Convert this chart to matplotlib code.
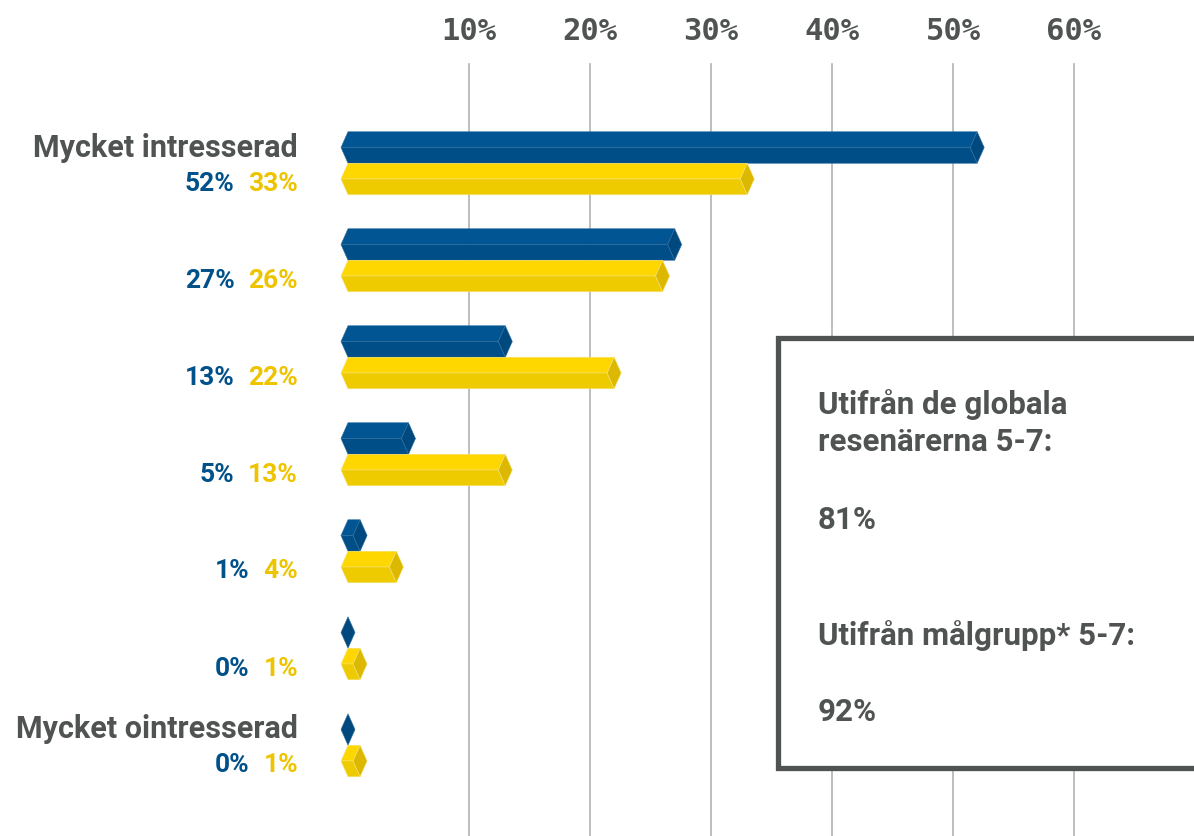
import matplotlib
matplotlib.use("Agg")
import matplotlib.pyplot as plt
from matplotlib.patches import Polygon, Rectangle

# svarsfördelning, från "Mycket intresserad" till "Mycket ointresserad"
global_pct = [52, 27, 13, 5, 1, 0, 0]
target_pct = [33, 26, 22, 13, 4, 1, 1]
row_labels = ["Mycket intresserad", "", "", "", "", "", "Mycket ointresserad"]
ticks = [10, 20, 30, 40, 50, 60]
box_lines = ["Utifrån de globala", "resenärerna 5-7:", "81%", "Utifrån målgrupp* 5-7:", "92%"]

GREY = "#4f5352"
BLUE_TXT = "#00508a"
YEL_TXT = "#eec400"
BLUE = ("#005592", "#004e88", "#00497f", "#2f6f9f")   # top, bottom, cap, edge
YEL = ("#ffd700", "#eeca00", "#dcb900", "#f5e27a")

LABEL_FONT = ["Roboto", "DejaVu Sans"]
TICK_FONT = ["DejaVu Sans Mono"]

W, H = 1194, 837
PX = 12.1          # pixlar per procentenhet
X0 = 348           # pixelposition för 0 %
fig = plt.figure(figsize=(W / 100, H / 100), dpi=100)
ax = fig.add_axes([0, 0, 1, 1])
ax.set_xlim(-X0 / PX, (W - X0) / PX)
ax.set_ylim(H, 0)
ax.axis("off")

# stödlinjer och skala överst
for t in ticks:
    ax.plot([t, t], [65, H], color="#b3b3b3", lw=1.2, zorder=0)
    ax.text(t, 31, f"{t}%", family=TICK_FONT, fontweight="bold", fontsize=22,
            color=GREY, ha="center", va="center")

half = 15.75       # halva stapelhöjden i pixlar
d = 0.58           # spetsens djup i procentenheter


def prism(v, c, col):
    top, bot = c - half, c + half
    faces = [
        ([(-d, c), (0, top), (v, top), (v - d, c)], col[0]),
        ([(-d, c), (v - d, c), (v, bot), (0, bot)], col[1]),
        ([(v - d, c), (v, top), (v + d, c), (v, bot)], col[2]),
    ]
    for pts, fc in faces:
        if v == 0 and fc != col[2]:
            continue
        ax.add_patch(Polygon(pts, closed=True, facecolor=fc, edgecolor=col[3],
                             lw=0.4, zorder=2))


rend = fig.canvas.get_renderer()
inv = ax.transData.inverted()
lab_x = (298 - X0) / PX

for i, (b, y) in enumerate(zip(global_pct, target_pct)):
    cb = 148.5 + 97 * i
    prism(b, cb, BLUE)
    prism(y, cb + 2 * half, YEL)

    if row_labels[i]:
        ax.text(lab_x, cb - 1, row_labels[i], family=LABEL_FONT, fontweight="bold",
                fontsize=22, color=GREY, ha="right", va="center")
    ty = ax.text(lab_x, cb + 35, f"{y}%", family=LABEL_FONT, fontweight="bold",
                 fontsize=19, color=YEL_TXT, ha="right", va="center")
    bb = ty.get_window_extent(rend)
    bx = inv.transform((bb.x0 - 14, 0))[0]
    ax.text(bx, cb + 35, f"{b}%", family=LABEL_FONT, fontweight="bold",
            fontsize=19, color=BLUE_TXT, ha="right", va="center")

# faktaruta till höger
bx0 = (778 - X0) / PX
ax.add_patch(Rectangle((bx0, 339), (W + 20 - X0) / PX - bx0, 430, facecolor="white",
                       edgecolor=GREY, lw=3.8, zorder=3, clip_on=False))
tx = (818 - X0) / PX
for s, yy in zip(box_lines, [405, 442, 520, 636, 712]):
    ax.text(tx, yy, s, family=LABEL_FONT, fontweight="bold", fontsize=22.5,
            color=GREY, ha="left", va="center", zorder=4)

fig.savefig("out.png", dpi=100)
